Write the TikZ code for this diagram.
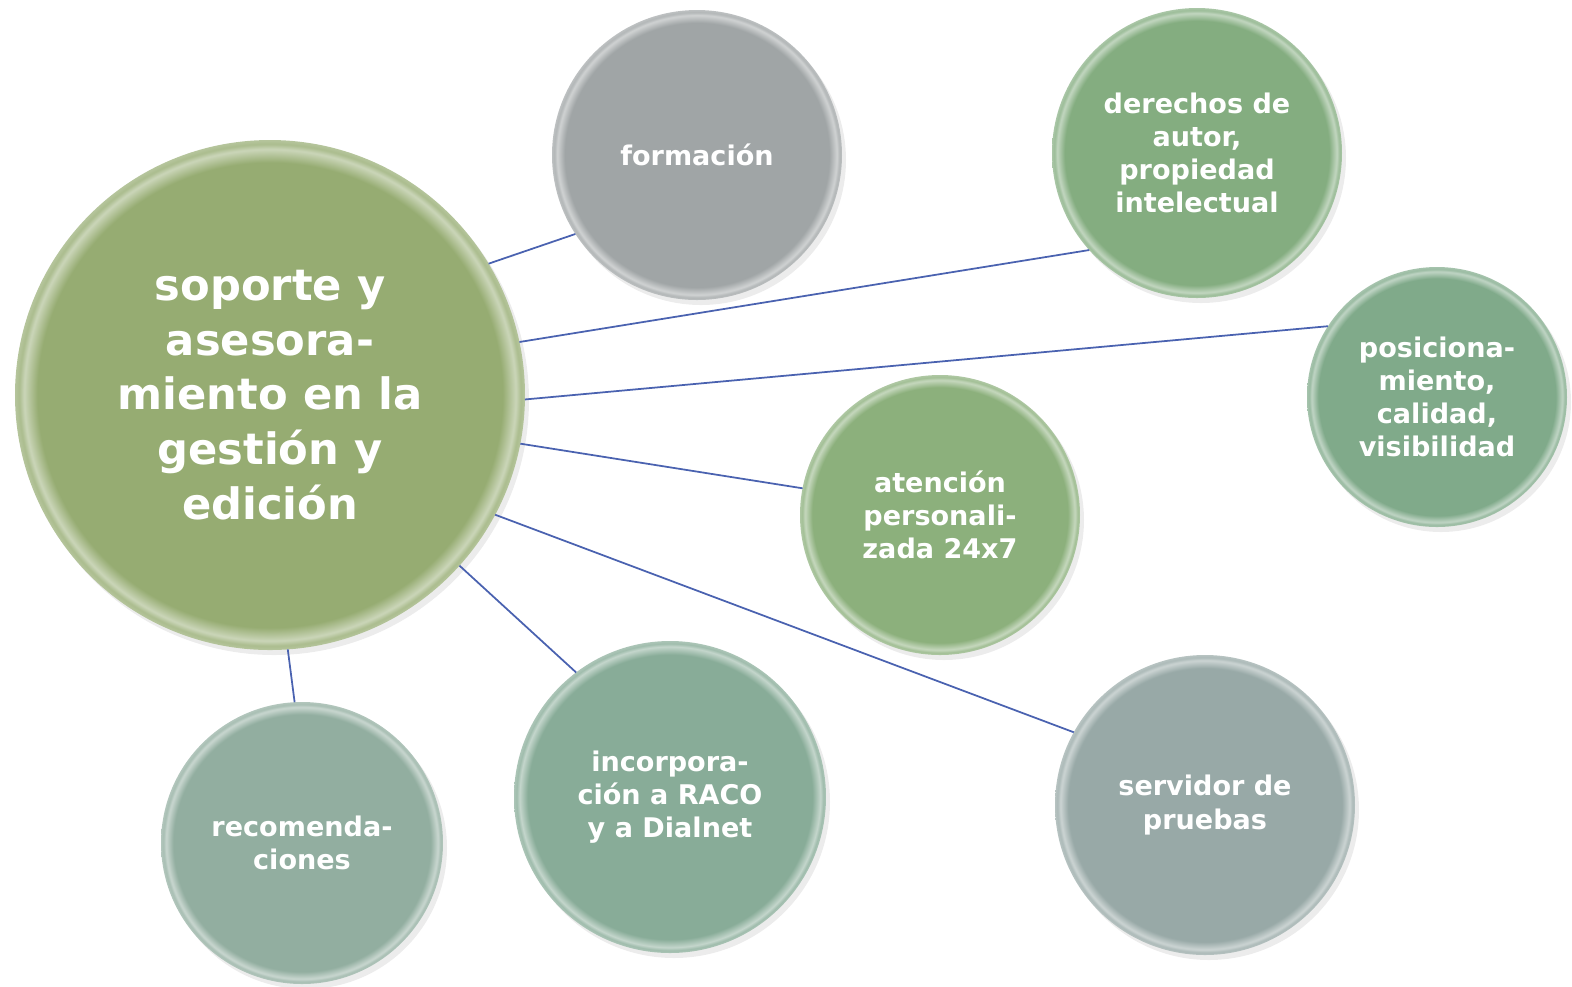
\documentclass[tikz,border=0pt]{standalone}
\usepackage{fontspec}
\setmainfont{DejaVu Sans}
\usetikzlibrary{shadows}
\definecolor{maincol}{HTML}{96AC72}
\definecolor{graycol}{HTML}{A0A5A6}
\definecolor{greencol}{HTML}{84AD80}
\definecolor{teacol}{HTML}{80AA8A}
\definecolor{lightcol}{HTML}{8CB07C}
\definecolor{slatecol}{HTML}{98A9A7}
\definecolor{seacol}{HTML}{88AC98}
\definecolor{mistcol}{HTML}{92AEA0}
\definecolor{linkcol}{HTML}{4A62B0}
\colorlet{bubfill}{maincol}
\pgfdeclareradialshading[bubfill]{bubble}{\pgfpoint{0bp}{0bp}}{color(0bp)=(bubfill); color(22.8bp)=(bubfill); color(24.1bp)=(bubfill!50!white); color(24.6bp)=(bubfill!80!white); color(25bp)=(bubfill!70!white); color(50bp)=(bubfill!70!white)}
\tikzstyle{bubble} = [circle, shading=bubble, text=white, align=center, inner sep=0pt, outer sep=0pt, font=\bfseries\fontsize{7.7}{9.4}\selectfont, drop shadow={shadow xshift=0.4mm, shadow yshift=-0.5mm, opacity=0.15}]
\tikzstyle{big} = [font=\bfseries\fontsize{12.3}{15.6}\selectfont]
\tikzstyle{link} = [draw=linkcol, line width=0.5pt]

\begin{document}
\begin{tikzpicture}
\useasboundingbox (0,0) rectangle (15.72,-9.86);

\node (main) [bubble, big, minimum size=5.1cm, /utils/exec={\colorlet{bubfill}{maincol}}] at (2.70,-3.95) {soporte y\\asesora-\\miento en la\\gestión y\\edición};

\node (form) [bubble, minimum size=2.9cm, /utils/exec={\colorlet{bubfill}{graycol}}] at (6.97,-1.55) {formación};
\node (dere) [bubble, minimum size=2.9cm, /utils/exec={\colorlet{bubfill}{greencol}}] at (11.97,-1.53) {derechos de\\autor,\\propiedad\\intelectual};
\node (posi) [bubble, minimum size=2.6cm, /utils/exec={\colorlet{bubfill}{teacol}}] at (14.37,-3.97) {posiciona-\\miento,\\calidad,\\visibilidad};
\node (aten) [bubble, minimum size=2.8cm, /utils/exec={\colorlet{bubfill}{lightcol}}] at (9.40,-5.15) {atención\\personali-\\zada 24x7};
\node (serv) [bubble, minimum size=3.0cm, /utils/exec={\colorlet{bubfill}{slatecol}}] at (12.05,-8.05) {servidor de\\pruebas};
\node (inco) [bubble, minimum size=3.12cm, /utils/exec={\colorlet{bubfill}{seacol}}] at (6.70,-7.97) {incorpora-\\ción a RACO\\y a Dialnet};
\node (reco) [bubble, minimum size=2.82cm, /utils/exec={\colorlet{bubfill}{mistcol}}] at (3.02,-8.43) {recomenda-\\ciones};

\draw [link] (main.31.5) -- (form.213);
\draw [link] (main.12.7) -- (dere.222);
\draw [link] (main.-1) -- (posi.147);
\draw [link] (main.-11) -- (aten.169.5);
\draw [link] (main.-28.8) -- (serv.151);
\draw [link] (main.-42.9) -- (inco.127);
\draw [link] (main.-86) -- (reco.93.6);

\end{tikzpicture}
\end{document}
